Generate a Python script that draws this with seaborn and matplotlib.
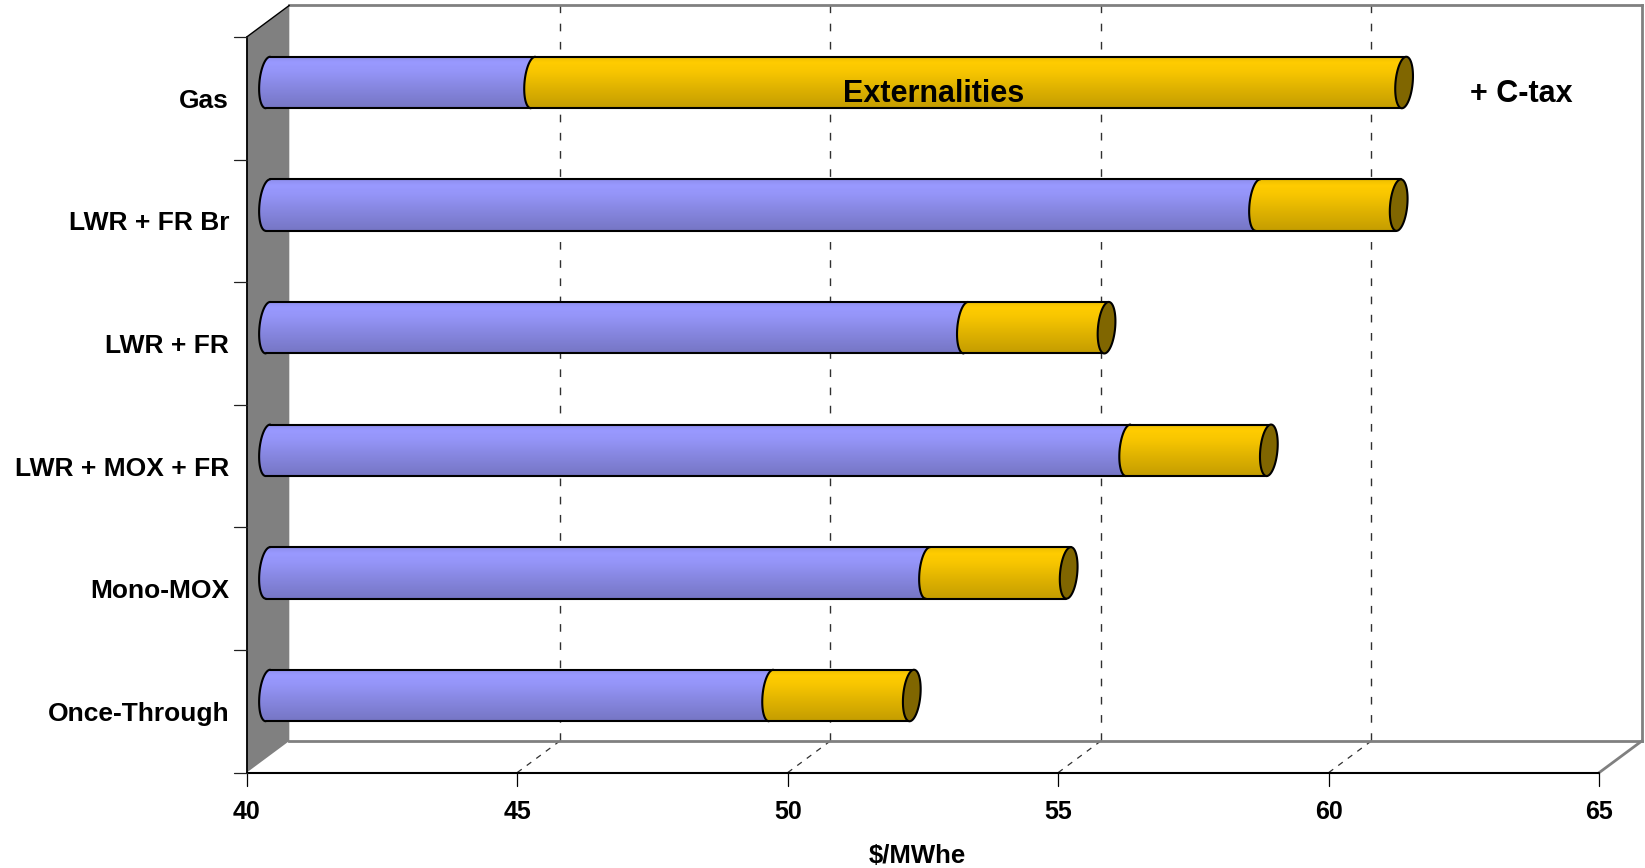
import numpy as np
import pandas as pd
import matplotlib
matplotlib.use("Agg")
import matplotlib.pyplot as plt
from matplotlib.path import Path
from matplotlib.patches import PathPatch, Polygon
import seaborn as sns

# ---- data -------------------------------------------------------------
CATEGORIES = ["Gas", "LWR + FR Br", "LWR + FR", "LWR + MOX + FR", "Mono-MOX", "Once-Through"]
GENERATION_COST = [44.9, 58.3, 52.9, 55.9, 52.2, 49.3]   # $/MWhe without externalities
EXTERNAL_COST = [16.1, 2.6, 2.6, 2.6, 2.6, 2.6]          # $/MWhe added by externalities
X_TICKS = [40, 45, 50, 55, 60, 65]
X_LABEL = "$/MWhe"
SEGMENT_LABEL = "Externalities"
NOTE_LABEL = "+ C-tax"

df = pd.DataFrame({"option": CATEGORIES,
                   "generation": GENERATION_COST,
                   "external": EXTERNAL_COST})
df["total"] = df["generation"] + df["external"]

# ---- style / geometry -------------------------------------------------
BLUE = "#9999FF"
YELLOW = "#FFCC00"
WALL = "#808080"
W_PX, H_PX = 1645, 868
PX_PER_UNIT = 54.1          # pixels per $/MWhe
PX_PER_ROW = 122.6          # pixels per category row
MID40_PX = 268.0            # x pixel of value 40 on the mid-depth plane
ROW0_PX = 82.5              # y pixel of first row centre on the mid-depth plane
DX = 21.3 / PX_PER_UNIT     # half depth, horizontal (data units)
DY = 15.8 / PX_PER_ROW      # half depth, vertical (row units)
CAP_A = 8.6 / PX_PER_UNIT   # half width of the cylinder end ellipses
SHEAR = 2.2 / PX_PER_UNIT   # slight lean of the end ellipses
BAR_WIDTH = 0.42
LW = 1.5

sns.set_theme(style="white")
plt.rcParams["font.family"] = ["Liberation Sans", "DejaVu Sans"]
plt.rcParams["font.weight"] = "bold"

fig = plt.figure(figsize=(W_PX / 100, H_PX / 100), dpi=100)
ax = fig.add_axes([0, 0, 1, 1])

# bars: totals (externalities segment) first, generation cost on top
sns.barplot(data=df, x="total", y="option", order=CATEGORIES, orient="h",
            color=YELLOW, saturation=1, width=BAR_WIDTH, errorbar=None,
            linewidth=0, ax=ax)
n_total = len(ax.patches)
sns.barplot(data=df, x="generation", y="option", order=CATEGORIES, orient="h",
            color=BLUE, saturation=1, width=BAR_WIDTH, errorbar=None,
            linewidth=0, ax=ax)
yellow_bars = list(ax.patches)[:n_total]
blue_bars = list(ax.patches)[n_total:]

lo, hi = X_TICKS[0], X_TICKS[-1]
row_top, row_bottom = -0.5, len(CATEGORIES) - 0.5


def front(x, y):
    return (x - DX, y + DY)


def back(x, y):
    return (x + DX, y - DY)


def seg(p, q, **kw):
    ax.plot([p[0], q[0]], [p[1], q[1]], **kw)


# ---- 3-D frame -------------------------------------------------------
ax.add_patch(Polygon([back(lo, row_top), back(hi, row_top), back(hi, row_bottom),
                      back(lo, row_bottom)], closed=True, fc="white", ec="none", zorder=0.5))
ax.add_patch(Polygon([front(lo, row_bottom), front(hi, row_bottom), back(hi, row_bottom),
                      back(lo, row_bottom)], closed=True, fc="white", ec="none", zorder=0.6))
ax.add_patch(Polygon([front(lo, row_top), back(lo, row_top), back(lo, row_bottom),
                      front(lo, row_bottom)], closed=True, fc=WALL, ec="none", zorder=1.5))

dash = (0, (5.5, 7.6))
for v in X_TICKS[1:-1]:
    seg(back(v, row_top), back(v, row_bottom), color="#303030", lw=1.0, ls=dash, zorder=1)
    seg(front(v, row_bottom), back(v, row_bottom), color="#303030", lw=0.9, ls=(0, (4.5, 5.0)), zorder=1)

gray_kw = dict(color=WALL, lw=2.0, zorder=1.2, solid_capstyle="projecting")
seg(back(lo, row_top), back(hi, row_top), **gray_kw)
seg(back(hi, row_top), back(hi, row_bottom), **gray_kw)
seg(back(lo, row_bottom), back(hi, row_bottom), **gray_kw)
seg(front(hi, row_bottom), back(hi, row_bottom), **gray_kw)
seg(front(lo, row_top), back(lo, row_top), color="black", lw=1.0, zorder=1.6)
seg(front(lo, row_top), front(lo, row_bottom), color="black", lw=1.3, zorder=1.7)
seg(front(lo, row_bottom), front(hi, row_bottom), color="black", lw=1.5, zorder=1.7)

# ticks and tick labels on the front plane
tick_x = 13 / PX_PER_UNIT
tick_y = 13 / PX_PER_ROW
for v in X_TICKS:
    fx, fy = front(v, row_bottom)
    ax.plot([fx, fx], [fy, fy + tick_y], color="black", lw=0.9, zorder=1.7)
    ax.text(fx, fy + 46.4 / PX_PER_ROW, f"{v}", ha="center", va="baseline",
            fontsize=18, fontweight="bold", color="black")
for k in range(len(CATEGORIES) + 1):
    fx, fy = front(lo, row_top + k)
    ax.plot([fx - tick_x, fx], [fy, fy], color="#202020", lw=0.9, zorder=1.7)

for i, name in enumerate(CATEGORIES):
    fx, fy = front(lo, i)
    ax.text(fx - tick_x - 4.5 / PX_PER_UNIT, fy + 9.4 / PX_PER_ROW, name,
            ha="right", va="baseline", fontsize=19, fontweight="bold", color="black")

fx, fy = front(52.4, row_bottom)
ax.text(fx, fy + 90.7 / PX_PER_ROW, X_LABEL, ha="center", va="baseline",
        fontsize=18.5, fontweight="bold", color="black")


# ---- cylinders --------------------------------------------------------
def arc(xc, yc, hh, t0, t1, n=80):
    t = np.linspace(t0, t1, n)
    return np.column_stack([xc + CAP_A * np.cos(t) - SHEAR * np.sin(t),
                            yc + hh * np.sin(t)])


def segment_path(xl, xr, yc, hh):
    left = arc(xl, yc, hh, -np.pi / 2, -1.5 * np.pi)
    pts = np.vstack([[xr + SHEAR, yc - hh], left,
                     [xr - SHEAR, yc + hh], [xr + SHEAR, yc - hh]])
    return Path(pts, closed=True)


def shade(rgb, n=90):
    t = np.linspace(0, 1, n)
    f = np.interp(t, [0, 0.12, 0.3, 0.6, 1.0], [0.93, 1.0, 0.97, 0.88, 0.77])
    img = np.clip(np.outer(f, np.asarray(rgb)), 0, 1)
    return np.repeat(img[:, None, :], 2, axis=1)


for yb, bb in zip(yellow_bars, blue_bars):
    hh = yb.get_height() / 2
    yc = yb.get_y() + hh
    x_total = yb.get_x() + yb.get_width()
    x_gen = bb.get_x() + bb.get_width()
    for bar, xl, xr, z in [(bb, lo, x_gen, 3), (yb, x_gen, x_total, 4)]:
        clip = PathPatch(segment_path(xl, xr, yc, hh), transform=ax.transData)
        bar.set_clip_path(clip)
        bar.set_zorder(z)
        im = ax.imshow(shade(bar.get_facecolor()[:3]),
                       extent=(xl - CAP_A - SHEAR, xr + SHEAR, yc + hh, yc - hh),
                       origin="upper", aspect="auto", interpolation="bilinear",
                       zorder=z + 0.1)
        im.set_clip_path(clip)
    line_kw = dict(color="black", lw=LW, zorder=6, solid_capstyle="round")
    ax.plot([lo + SHEAR, x_total + SHEAR], [yc - hh, yc - hh], **line_kw)
    ax.plot([lo - SHEAR, x_total - SHEAR], [yc + hh, yc + hh], **line_kw)
    for xa in (lo, x_gen):
        a = arc(xa, yc, hh, -np.pi / 2, -1.5 * np.pi)
        ax.plot(a[:, 0], a[:, 1], **line_kw)
    cap = arc(x_total, yc, hh, 0, 2 * np.pi, n=120)
    dark = np.asarray(yb.get_facecolor()[:3]) * 0.5
    ax.add_patch(PathPatch(Path(np.vstack([cap, cap[:1]]), closed=True),
                           fc=dark, ec="black", lw=LW, zorder=6.5))

# annotations
ax.text(52.3, 0 + 19.2 / PX_PER_ROW, SEGMENT_LABEL, ha="center", va="baseline",
        fontsize=22, fontweight="bold", color="black", zorder=8)
ax.text(63.17, 0 + 19.2 / PX_PER_ROW, NOTE_LABEL, ha="center", va="baseline",
        fontsize=22, fontweight="bold", color="black", zorder=8)

ax.set_xlim(lo - MID40_PX / PX_PER_UNIT, lo + (W_PX - MID40_PX) / PX_PER_UNIT)
ax.set_ylim((H_PX - ROW0_PX) / PX_PER_ROW, -ROW0_PX / PX_PER_ROW)
ax.set_axis_off()

fig.savefig("out.png", dpi=100)
